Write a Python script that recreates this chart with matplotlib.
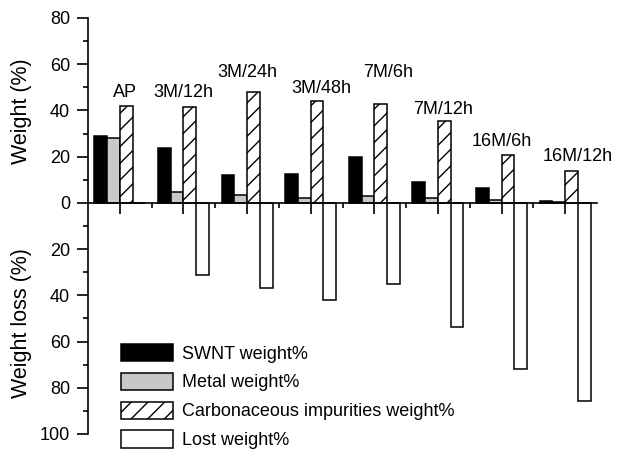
import numpy as np
import matplotlib
matplotlib.use("Agg")
import matplotlib.pyplot as plt
from matplotlib.ticker import MultipleLocator, FixedLocator

plt.rcParams['font.family'] = ['Liberation Sans', 'DejaVu Sans']
plt.rcParams['hatch.linewidth'] = 1.0

# sample groups and their values (%)
samples = ['AP', '3M/12h', '3M/24h', '3M/48h', '7M/6h', '7M/12h', '16M/6h', '16M/12h']
swnt = [29.1, 23.6, 12.2, 12.5, 19.8, 8.9, 6.6, 0.6]
metal = [28.1, 4.5, 3.2, 1.9, 2.9, 1.9, 1.3, 0.3]
carbon = [42.0, 41.4, 47.9, 44.1, 42.9, 35.5, 20.6, 13.8]
lost = [0.0, 31.0, 36.9, 42.0, 35.0, 53.9, 71.9, 85.9]

# label placement (offset from group centre, height in %)
label_dx = [0.08, 0.0, 0.0, 0.16, 0.22, 0.08, 0.0, 0.2]
label_y = [47.6, 47.6, 56.2, 49.3, 56.2, 40.2, 26.4, 19.9]

x = np.arange(len(samples))
w = 0.2

fig = plt.figure(figsize=(6.25, 4.61), dpi=100)
ax = fig.add_axes([0.1408, 0.0586, 0.8144, 0.9024])

ec = 'black'
lw = 1.1
b1 = ax.bar(x - 1.5 * w, swnt, w, color='black', edgecolor=ec, linewidth=lw, label='SWNT weight%')
b2 = ax.bar(x - 0.5 * w, metal, w, color='#c8c8c8', edgecolor=ec, linewidth=lw, label='Metal weight%')
b3 = ax.bar(x + 0.5 * w, carbon, w, color='white', edgecolor=ec, linewidth=lw, hatch='//',
            label='Carbonaceous impurities weight%')
b4 = ax.bar(x + 1.5 * w, [-v for v in lost], w, color='white', edgecolor=ec, linewidth=lw,
            label='Lost weight%')

for i, s in enumerate(samples):
    ax.text(x[i] + label_dx[i], label_y[i], s, ha='center', va='center', fontsize=13)

ax.set_xlim(-0.5, len(samples) - 0.5)
ax.set_ylim(-100, 80)

for side in ['top', 'right']:
    ax.spines[side].set_visible(False)
ax.spines['bottom'].set_position(('data', 0))
ax.spines['left'].set_linewidth(1.2)
ax.spines['bottom'].set_linewidth(1.2)

yt = np.arange(-100, 81, 20)
ax.set_yticks(yt)
ax.set_yticklabels([str(abs(v)) for v in yt], fontsize=13)
ax.yaxis.set_minor_locator(MultipleLocator(10))
ax.xaxis.set_major_locator(FixedLocator(x))
ax.xaxis.set_minor_locator(FixedLocator(x[:-1] + 0.5))
ax.set_xticklabels([])
ax.tick_params(axis='both', which='major', direction='out', length=8, width=1.2)
ax.tick_params(axis='both', which='minor', direction='out', length=3.5, width=1.2)
ax.tick_params(axis='y', which='major', pad=5)

fig.text(0.035, 1 - 111 / 461, 'Weight (%)', rotation=90, ha='center', va='center', fontsize=15.5)
fig.text(0.035, 1 - 323 / 461, 'Weight loss (%)', rotation=90, ha='center', va='center', fontsize=15.5)

ax.legend(handles=[b1, b2, b3, b4], loc='upper left', bbox_to_anchor=(0.065, 0.217),
          frameon=False, fontsize=13, handlelength=2.9, handleheight=1.1,
          labelspacing=0.56, handletextpad=0.5, borderaxespad=0, borderpad=0)

fig.savefig('out.png', dpi=100)
